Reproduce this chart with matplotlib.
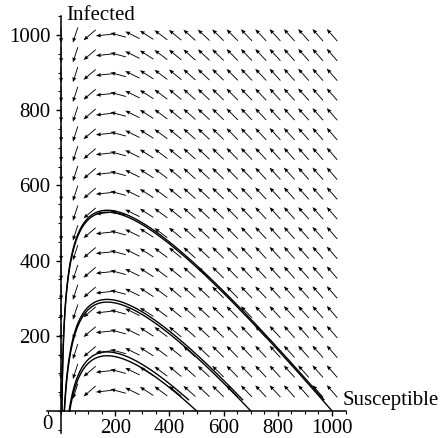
import numpy as np
import matplotlib
matplotlib.use("Agg")
import matplotlib.pyplot as plt
from matplotlib.ticker import MultipleLocator

# SIR model: S' = -beta*S*I, I' = beta*S*I - gamma*I
beta = 0.001
gamma = 0.17

# 20 x 20 direction field grid on [0, 1000] x [0, 1000]
grid_n = 20
s_max = 1000
i_max = 1000

# initial conditions (S0, I0) of the drawn solution curves
s_starts = [999, 970, 699, 670, 499, 470]
i_starts = [1, 30, 1, 30, 1, 30]

x_ticks = [200, 400, 600, 800, 1000]
y_ticks = [200, 400, 600, 800, 1000]

plt.rcParams['font.family'] = ['Liberation Serif', 'DejaVu Serif']

fig = plt.figure(figsize=(4.41, 4.38), dpi=100)
ax = fig.add_axes([0.1066, 0.0119, 0.677, 0.951])
ax.set_xlim(-52, 1050)
ax.set_ylim(-58, 1050)

# pixel per data unit, so arrows get the same screen length
bbox = ax.get_position()
sx = bbox.width * fig.get_figwidth() * fig.dpi / (1050 + 52)
sy = bbox.height * fig.get_figheight() * fig.dpi / (1050 + 58)


def rhs(s, i):
    return -beta * s * i, beta * s * i - gamma * i


# direction field
S, I = np.meshgrid(np.linspace(0, s_max, grid_n), np.linspace(0, i_max, grid_n))
dS, dI = rhs(S, I)
px = dS * sx
py = dI * sy
norm = np.hypot(px, py)
norm[norm == 0] = np.nan
L = 16
U = px / norm * L / sx
V = py / norm * L / sy
ax.quiver(S, I, U, V, angles='xy', scale_units='xy', scale=1, units='dots',
          pivot='middle', width=0.9, headwidth=4.5, headlength=5.5, headaxislength=5,
          color='black', zorder=3)

# solution curves, RK4
dt = 0.01
for s0, i0 in zip(s_starts, i_starts):
    s, i = float(s0), float(i0)
    ss, ii = [s], [i]
    for _ in range(9000):
        k1 = rhs(s, i)
        k2 = rhs(s + dt / 2 * k1[0], i + dt / 2 * k1[1])
        k3 = rhs(s + dt / 2 * k2[0], i + dt / 2 * k2[1])
        k4 = rhs(s + dt * k3[0], i + dt * k3[1])
        s += dt / 6 * (k1[0] + 2 * k2[0] + 2 * k3[0] + k4[0])
        i += dt / 6 * (k1[1] + 2 * k2[1] + 2 * k3[1] + k4[1])
        ss.append(s)
        ii.append(i)
    ax.plot(ss, ii, color='black', lw=1.0, zorder=2)

# Maple style axes through the origin
for side in ['top', 'right']:
    ax.spines[side].set_visible(False)
ax.spines['left'].set_position(('data', 0))
ax.spines['bottom'].set_position(('data', 0))
ax.spines['left'].set_linewidth(1.1)
ax.spines['bottom'].set_linewidth(1.1)

ax.set_xticks(x_ticks)
ax.set_yticks(y_ticks)
ax.xaxis.set_minor_locator(MultipleLocator(50))
ax.yaxis.set_minor_locator(MultipleLocator(50))
ax.tick_params(which='major', length=3.5, width=1, labelsize=15)
ax.tick_params(which='minor', length=2.5, width=0.8)
ax.tick_params(axis='x', which='major', pad=2)
ax.tick_params(axis='y', which='major', pad=4)

ax.text(-30, -12, '0', ha='right', va='top', fontsize=15)
ax.text(20, 1040, 'Infected', ha='left', va='baseline', fontsize=15, clip_on=False)
ax.text(1040, 16, 'Susceptible', ha='left', va='baseline', fontsize=15, clip_on=False)

fig.savefig('out.png', dpi=100)
